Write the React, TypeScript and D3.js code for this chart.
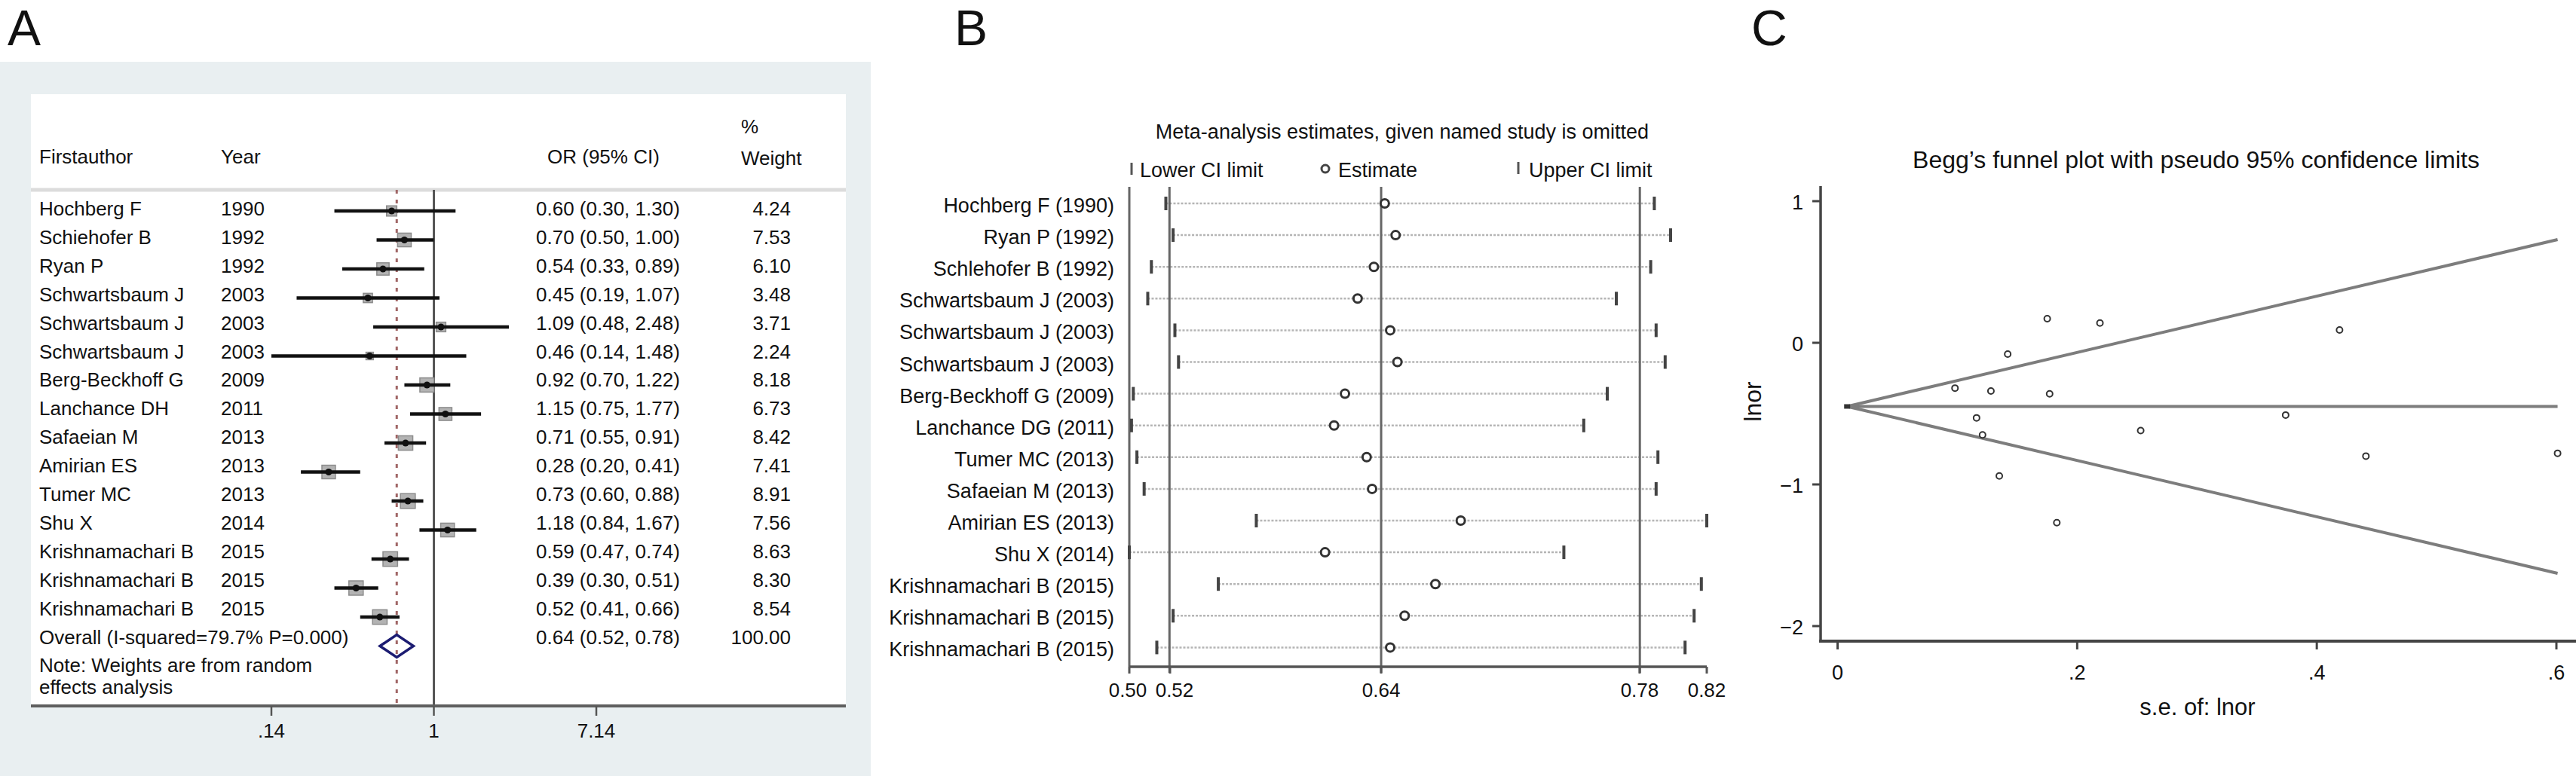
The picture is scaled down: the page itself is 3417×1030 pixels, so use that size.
import React, { useEffect, useRef } from 'react';
import * as d3 from 'd3';

// ---- Panel A: forest plot ----
const authors = ['Hochberg F', 'Schiehofer B', 'Ryan P', 'Schwartsbaum J', 'Schwartsbaum J', 'Schwartsbaum J', 'Berg-Beckhoff G', 'Lanchance DH', 'Safaeian M', 'Amirian ES', 'Tumer MC', 'Shu X', 'Krishnamachari B', 'Krishnamachari B', 'Krishnamachari B'];
const years = [1990, 1992, 1992, 2003, 2003, 2003, 2009, 2011, 2013, 2013, 2013, 2014, 2015, 2015, 2015];
const orValues = [0.60, 0.70, 0.54, 0.45, 1.09, 0.46, 0.92, 1.15, 0.71, 0.28, 0.73, 1.18, 0.59, 0.39, 0.52];
const orLower = [0.30, 0.50, 0.33, 0.19, 0.48, 0.14, 0.70, 0.75, 0.55, 0.20, 0.60, 0.84, 0.47, 0.30, 0.41];
const orUpper = [1.30, 1.00, 0.89, 1.07, 2.48, 1.48, 1.22, 1.77, 0.91, 0.41, 0.88, 1.67, 0.74, 0.51, 0.66];
const weights = [4.24, 7.53, 6.10, 3.48, 3.71, 2.24, 8.18, 6.73, 8.42, 7.41, 8.91, 7.56, 8.63, 8.30, 8.54];
const overallOR = 0.638;
const overallLower = 0.521;
const overallUpper = 0.781;
const forestTicks = [0.14, 1, 7.14];
const forestTickLabels = ['.14', '1', '7.14'];

// ---- Panel B: leave-one-out ----
const omittedStudies = ['Hochberg F (1990)', 'Ryan P (1992)', 'Schlehofer B (1992)', 'Schwartsbaum J (2003)', 'Schwartsbaum J (2003)', 'Schwartsbaum J (2003)', 'Berg-Beckhoff G (2009)', 'Lanchance DG (2011)', 'Tumer MC (2013)', 'Safaeian M (2013)', 'Amirian ES (2013)', 'Shu X (2014)', 'Krishnamachari B (2015)', 'Krishnamachari B (2015)', 'Krishnamachari B (2015)'];
const omitEstimate = [0.640, 0.646, 0.634, 0.625, 0.643, 0.647, 0.618, 0.612, 0.630, 0.633, 0.682, 0.607, 0.668, 0.651, 0.643];
const omitLower = [0.519, 0.523, 0.511, 0.509, 0.524, 0.526, 0.501, 0.500, 0.503, 0.507, 0.569, 0.4988, 0.548, 0.523, 0.514];
const omitUpper = [0.789, 0.798, 0.787, 0.768, 0.790, 0.795, 0.763, 0.750, 0.791, 0.790, 0.818, 0.739, 0.815, 0.811, 0.806];
const omitTicks = [0.4988, 0.5213, 0.638, 0.7809, 0.818];

// ---- Panel C: Begg's funnel ----
const seLnor = [0.374, 0.177, 0.253, 0.441, 0.419, 0.601, 0.142, 0.219, 0.128, 0.183, 0.098, 0.175, 0.116, 0.135, 0.121];
const lnor = [-0.51, -0.36, -0.62, -0.80, 0.09, -0.78, -0.08, 0.14, -0.34, -1.27, -0.32, 0.17, -0.53, -0.94, -0.65];
const funnelXTicks = [0, 0.2, 0.4, 0.6];
const funnelXLabels = ['0', '.2', '.4', '.6'];
const funnelYTicks = [1, 0, -1, -2];
const funnelYLabels = ['1', '0', '\u22121', '\u22122'];

const FONT = '"Liberation Sans", Arial, sans-serif';
const W = 3417;
const H = 1030;

const App: React.FC = () => {
  const svgRef = useRef<SVGSVGElement>(null);

  useEffect(() => {
    if (!svgRef.current) return;
    const svg = d3.select(svgRef.current);
    svg.selectAll('*').remove();
    svg.attr('width', W).attr('height', H).style('font-family', FONT);

    svg.append('rect').attr('width', W).attr('height', H).attr('fill', '#fff');

    const txt = (g: any, x: number, y: number, s: string, size: number, anchor = 'start') =>
      g.append('text')
        .attr('x', x).attr('y', y)
        .attr('dominant-baseline', 'central')
        .attr('text-anchor', anchor)
        .style('font-size', `${size}px`)
        .style('fill', '#111')
        .text(s);

    // panel letters
    const letter = (x: number, s: string) =>
      svg.append('text').attr('x', x).attr('y', 60)
        .style('font-size', '66px').style('fill', '#111').text(s);
    letter(10, 'A');
    letter(1266, 'B');
    letter(2323, 'C');

    // ===== A =====
    const a = svg.append('g');
    a.append('rect').attr('x', 0).attr('y', 82).attr('width', 1155).attr('height', H - 82).attr('fill', '#e9eff1');
    a.append('rect').attr('x', 41).attr('y', 125).attr('width', 1081).attr('height', 813).attr('fill', '#fff');
    a.append('line').attr('x1', 41).attr('x2', 1122).attr('y1', 252).attr('y2', 252)
      .style('stroke', '#dcdcdc').style('stroke-width', 5);

    const xA = d3.scaleLog().domain([0.14, 7.14]).range([360, 791]);
    const textY = (i: number) => 277 + 37.9 * i;
    const markY = (i: number) => 280 + 38.5 * i;

    // header
    txt(a, 52, 208, 'Firstauthor', 26);
    txt(a, 293, 208, 'Year', 26);
    txt(a, 726, 208, 'OR (95% CI)', 26);
    txt(a, 983, 168, '%', 26);
    txt(a, 983, 210, 'Weight', 26);

    // reference lines
    a.append('line').attr('x1', xA(1)).attr('x2', xA(1)).attr('y1', 252).attr('y2', 937)
      .style('stroke', '#555').style('stroke-width', 3);
    a.append('line').attr('x1', xA(overallOR)).attr('x2', xA(overallOR)).attr('y1', 252).attr('y2', 937)
      .style('stroke', '#a06666').style('stroke-width', 3).style('stroke-dasharray', '5,8');

    const fmt = (v: number) => v.toFixed(2);
    authors.forEach((name, i) => {
      const ty = textY(i);
      const my = markY(i);
      txt(a, 52, ty, name, 26);
      txt(a, 293, ty, String(years[i]), 26);
      txt(a, 711, ty, `${fmt(orValues[i])} (${fmt(orLower[i])}, ${fmt(orUpper[i])})`, 26);
      txt(a, 1049, ty, fmt(weights[i]), 26, 'end');
      const side = 6.6 * Math.sqrt(weights[i]);
      a.append('rect')
        .attr('x', xA(orValues[i]) - side / 2).attr('y', my - side / 2)
        .attr('width', side).attr('height', side)
        .style('fill', '#b3b3b3').style('stroke', '#8c8c8c').style('stroke-width', 1.5);
      a.append('line')
        .attr('x1', xA(orLower[i])).attr('x2', xA(orUpper[i])).attr('y1', my).attr('y2', my)
        .style('stroke', '#111').style('stroke-width', 4.5);
      a.append('circle').attr('cx', xA(orValues[i])).attr('cy', my).attr('r', 4.5).style('fill', '#111');
    });

    // overall row
    const oi = authors.length;
    txt(a, 52, textY(oi), 'Overall (I-squared=79.7% P=0.000)', 26);
    txt(a, 711, textY(oi), `${fmt(overallOR)} (${fmt(overallLower)}, ${fmt(overallUpper)})`, 26);
    txt(a, 1049, textY(oi), '100.00', 26, 'end');
    const dy = markY(oi);
    a.append('path')
      .attr('d', `M${xA(overallLower)},${dy} L${xA(overallOR)},${dy - 15} L${xA(overallUpper)},${dy} L${xA(overallOR)},${dy + 15} Z`)
      .style('fill', 'none').style('stroke', '#1c1c72').style('stroke-width', 3.5);
    txt(a, 52, 883, 'Note: Weights are from random', 26);
    txt(a, 52, 912, 'effects analysis', 26);

    // axis
    a.append('line').attr('x1', 41).attr('x2', 1122).attr('y1', 937).attr('y2', 937)
      .style('stroke', '#5e5e5e').style('stroke-width', 4);
    forestTicks.forEach((t, i) => {
      a.append('line').attr('x1', xA(t)).attr('x2', xA(t)).attr('y1', 937).attr('y2', 950)
        .style('stroke', '#555').style('stroke-width', 2.5);
      txt(a, xA(t), 970, forestTickLabels[i], 26, 'middle');
    });

    // ===== B =====
    const b = svg.append('g');
    const xB = d3.scaleLinear().domain([0.4988, 0.818]).range([1498, 2264]);
    const rowB = (i: number) => 270 + 42.1 * i;
    txt(b, 1860, 175, 'Meta-analysis estimates, given named study is omitted', 27, 'middle');

    // legend
    b.append('line').attr('x1', 1501).attr('x2', 1501).attr('y1', 216).attr('y2', 232)
      .style('stroke', '#555').style('stroke-width', 3);
    txt(b, 1512, 226, 'Lower CI limit', 27);
    b.append('circle').attr('cx', 1758).attr('cy', 224).attr('r', 5)
      .style('fill', '#fff').style('stroke', '#444').style('stroke-width', 3);
    txt(b, 1775, 226, 'Estimate', 27);
    b.append('line').attr('x1', 2014).attr('x2', 2014).attr('y1', 215).attr('y2', 231)
      .style('stroke', '#555').style('stroke-width', 3);
    txt(b, 2028, 226, 'Upper CI limit', 27);

    // dotted CI lines
    omittedStudies.forEach((name, i) => {
      const y = rowB(i);
      txt(b, 1478, y + 3, name, 27, 'end');
      b.append('line').attr('x1', xB(omitLower[i])).attr('x2', xB(omitUpper[i])).attr('y1', y).attr('y2', y)
        .style('stroke', '#b5b5b5').style('stroke-width', 2.5).style('stroke-dasharray', '3,2');
    });

    // vertical axis + overall lines
    b.append('line').attr('x1', 1498).attr('x2', 1498).attr('y1', 248).attr('y2', 885)
      .style('stroke', '#666').style('stroke-width', 3);
    [overallLower, overallOR, overallUpper].forEach(v => {
      b.append('line').attr('x1', xB(v)).attr('x2', xB(v)).attr('y1', 248).attr('y2', 893)
        .style('stroke', '#666').style('stroke-width', 3);
    });
    b.append('line').attr('x1', 1498).attr('x2', 2264).attr('y1', 885).attr('y2', 885)
      .style('stroke', '#555').style('stroke-width', 3.5);
    omitTicks.forEach(t => {
      b.append('line').attr('x1', xB(t)).attr('x2', xB(t)).attr('y1', 885).attr('y2', 894)
        .style('stroke', '#555').style('stroke-width', 3);
    });
    const tickShift = [-2, 6, 0, 0, 0];
    omitTicks.forEach((t, i) => {
      txt(b, xB(t) + tickShift[i], 916, t.toFixed(2), 26, 'middle');
    });

    // markers
    omittedStudies.forEach((_, i) => {
      const y = rowB(i);
      [omitLower[i], omitUpper[i]].forEach(v => {
        b.append('line').attr('x1', xB(v)).attr('x2', xB(v)).attr('y1', y - 9).attr('y2', y + 9)
          .style('stroke', '#444').style('stroke-width', 4);
      });
      b.append('circle').attr('cx', xB(omitEstimate[i])).attr('cy', y).attr('r', 5.5)
        .style('fill', '#fff').style('stroke', '#333').style('stroke-width', 3);
    });

    // ===== C =====
    const c = svg.append('g');
    const xC = d3.scaleLinear().domain([0, 0.6]).range([2437.5, 3391]);
    const yC = d3.scaleLinear().domain([-2, 1]).range([831, 267]);
    txt(c, 2913, 212, 'Begg\u2019s funnel plot with pseudo 95% confidence limits', 32, 'middle');

    const center = Math.log(overallOR);
    const seMax = d3.max(seLnor) as number;
    const apex = 0.008;
    const lineStyle = (sel: any) => sel.style('stroke', '#7d7d7d').style('stroke-width', 4).style('fill', 'none');
    lineStyle(c.append('line').attr('x1', xC(apex)).attr('x2', xC(seMax)).attr('y1', yC(center)).attr('y2', yC(center)));
    lineStyle(c.append('line').attr('x1', xC(apex)).attr('x2', xC(seMax)).attr('y1', yC(center)).attr('y2', yC(center + 1.96 * seMax)));
    lineStyle(c.append('line').attr('x1', xC(apex)).attr('x2', xC(seMax)).attr('y1', yC(center)).attr('y2', yC(center - 1.96 * seMax)));
    c.append('rect').attr('x', xC(apex) - 4).attr('y', yC(center) - 3).attr('width', 8).attr('height', 6).style('fill', '#333');

    lnor.forEach((v, i) => {
      c.append('circle').attr('cx', xC(seLnor[i])).attr('cy', yC(v)).attr('r', 4)
        .style('fill', '#fff').style('stroke', '#333').style('stroke-width', 2);
    });

    // axes
    c.append('line').attr('x1', 2415).attr('x2', 2415).attr('y1', 247).attr('y2', 853)
      .style('stroke', '#444').style('stroke-width', 3.5);
    c.append('line').attr('x1', 2413).attr('x2', W).attr('y1', 851).attr('y2', 851)
      .style('stroke', '#444').style('stroke-width', 4);
    funnelYTicks.forEach((t, i) => {
      c.append('line').attr('x1', 2404).attr('x2', 2415).attr('y1', yC(t)).attr('y2', yC(t))
        .style('stroke', '#444').style('stroke-width', 3);
      txt(c, 2392, yC(t) + 2, funnelYLabels[i], 27, 'end');
    });
    funnelXTicks.forEach((t, i) => {
      c.append('line').attr('x1', xC(t)).attr('x2', xC(t)).attr('y1', 851).attr('y2', 862)
        .style('stroke', '#444').style('stroke-width', 3);
      txt(c, xC(t), 893, funnelXLabels[i], 27, 'middle');
    });
    txt(c, 2915, 938, 's.e. of: lnor', 31, 'middle');
    c.append('text')
      .attr('transform', `translate(2325,533) rotate(-90)`)
      .attr('text-anchor', 'middle')
      .attr('dominant-baseline', 'central')
      .style('font-size', '32px')
      .style('fill', '#111')
      .text('lnor');
  }, []);

  return (
    <svg ref={svgRef} style={{ position: 'absolute', left: 0, top: 0, display: 'block' }}></svg>
  );
};

export default App;
